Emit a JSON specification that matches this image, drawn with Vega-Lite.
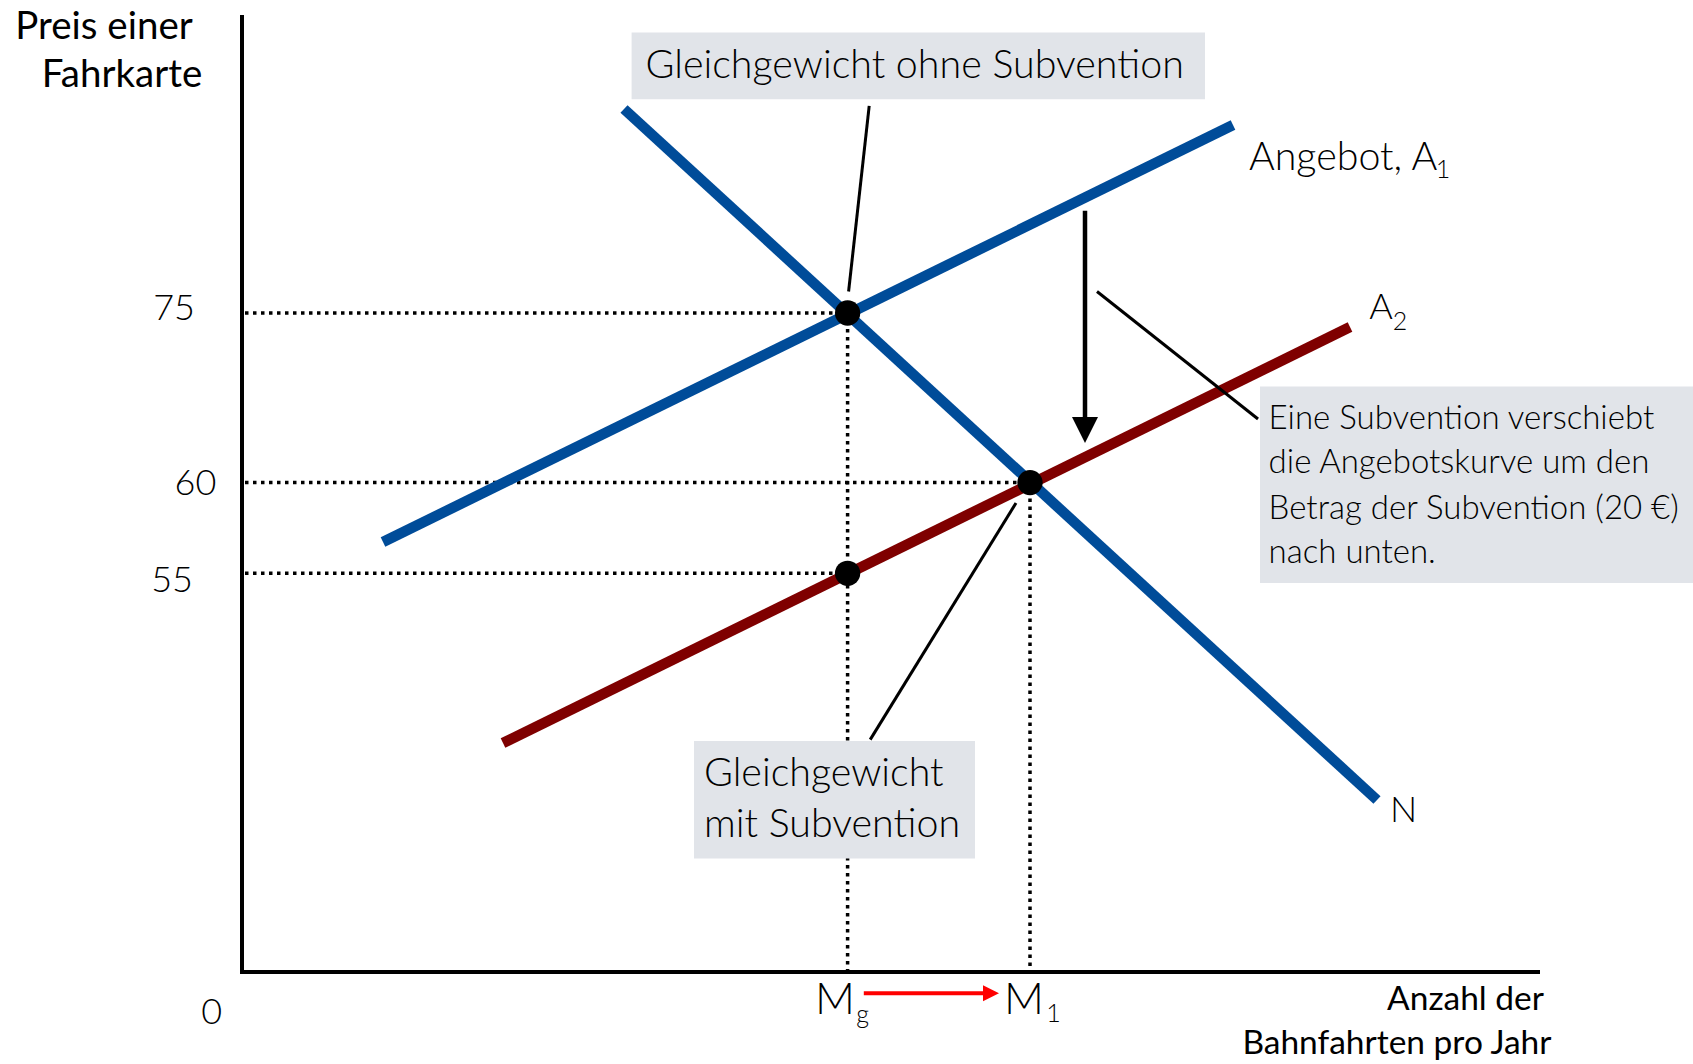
{
  "$schema": "https://vega.github.io/schema/vega-lite/v6.json",
  "width": 1298,
  "height": 957,
  "autosize": {"type": "none"},
  "padding": {"left": 242, "top": 15, "right": 153, "bottom": 92},
  "background": "white",
  "config": {"view": {"stroke": null}},
  "datasets": {
    "boxes": [
      {"name": "ohne", "x": 389.6, "x2": 963, "y": 939.6, "y2": 872.7},
      {"name": "info", "x": 1018, "x2": 1451, "y": 585.5, "y2": 389},
      {"name": "mit", "x": 452, "x2": 733, "y": 231, "y2": 113.6}
    ],
    "segs": [
      {"kind": "axis", "x": 0, "y": 0, "x2": 0, "y2": 957},
      {"kind": "axis", "x": -2, "y": 0, "x2": 1298, "y2": 0},
      {"kind": "dotted", "x": 3, "y": 659, "x2": 605.6, "y2": 659},
      {"kind": "dotted", "x": 3, "y": 489.4, "x2": 788, "y2": 489.4},
      {"kind": "dotted", "x": 3, "y": 398.7, "x2": 605.6, "y2": 398.7},
      {"kind": "dotted", "x": 605.6, "y": 659, "x2": 605.6, "y2": 2},
      {"kind": "dotted", "x": 788, "y": 489.4, "x2": 788, "y2": 2},
      {"kind": "blue", "x": 141, "y": 430, "x2": 991, "y2": 847},
      {"kind": "blue", "x": 382, "y": 863, "x2": 1135, "y2": 172},
      {"kind": "red", "x": 261, "y": 229, "x2": 1108, "y2": 645},
      {"kind": "note", "x": 627.2, "y": 866.2, "x2": 606.6, "y2": 680.5},
      {"kind": "note", "x": 855, "y": 680.5, "x2": 1016, "y2": 553},
      {"kind": "note", "x": 774, "y": 469, "x2": 628.2, "y2": 232.4},
      {"kind": "shift", "x": 843, "y": 761.3, "x2": 843, "y2": 548},
      {"kind": "qty", "x": 621.8, "y": -21.3, "x2": 745, "y2": -21.3}
    ],
    "heads": [
      {"kind": "down", "x": 843, "y": 542},
      {"kind": "right", "x": 749, "y": -21.3}
    ],
    "points": [
      {"name": "ohne Subvention", "x": 605.6, "y": 659},
      {"name": "mit Subvention", "x": 788, "y": 489.4},
      {"name": "Angebotspreis", "x": 605.6, "y": 398.7}
    ],
    "labels": [
      {"role": "big", "text": "Gleichgewicht ohne Subvention", "x": 403.6, "y": 906},
      {"role": "big", "text": "Gleichgewicht", "x": 462, "y": 198},
      {"role": "big", "text": "mit Subvention", "x": 462, "y": 147},
      {"role": "info", "text": "Eine Subvention verschiebt", "x": 1026.6, "y": 553},
      {"role": "info", "text": "die Angebotskurve um den", "x": 1026.6, "y": 509},
      {"role": "info", "text": "Betrag der Subvention (20 €)", "x": 1026.6, "y": 463.5},
      {"role": "info", "text": "nach unten.", "x": 1026.6, "y": 419},
      {"role": "tick", "text": "75", "x": -68, "y": 663},
      {"role": "tick", "text": "60", "x": -46.6, "y": 488},
      {"role": "tick", "text": "55", "x": -70, "y": 391},
      {"role": "tick", "text": "0", "x": -30.4, "y": -41},
      {"role": "tick", "text": "N", "x": 1161.6, "y": 161},
      {"role": "tick", "text": "A", "x": 1139, "y": 664},
      {"role": "m", "text": "M", "x": 593, "y": -29},
      {"role": "m", "text": "M", "x": 782, "y": -29},
      {"role": "sub", "text": "2", "x": 1158, "y": 650},
      {"role": "sub", "text": "g", "x": 620.5, "y": -43},
      {"role": "sub", "text": "1", "x": 811.5, "y": -42},
      {"role": "sub", "text": "1", "x": 1201, "y": 802},
      {"role": "supply", "text": "Angebot, A", "x": 1007, "y": 814},
      {"role": "ytitle", "text": "Preis einer", "x": -138, "y": 945},
      {"role": "ytitle", "text": "Fahrkarte", "x": -120, "y": 897},
      {"role": "xtitle", "text": "Anzahl der", "x": 1302, "y": -28},
      {"role": "xtitle", "text": "Bahnfahrten pro Jahr", "x": 1309.5, "y": -72}
    ]
  },
  "layer": [
    {
      "data": {"name": "segs"},
      "transform": [{"filter": "datum.kind === 'dotted'"}],
      "mark": {"type": "rule", "color": "black", "strokeWidth": 3.5, "strokeDash": [3.5, 4.5], "strokeCap": "butt"},
      "encoding": {
        "x": {"field": "x", "type": "quantitative", "scale": {"domain": [0, 1298], "nice": false, "zero": false}, "axis": null},
        "x2": {"field": "x2"},
        "y": {"field": "y", "type": "quantitative", "scale": {"domain": [0, 957], "nice": false, "zero": false}, "axis": null},
        "y2": {"field": "y2"}
      }
    },
    {
      "data": {"name": "boxes"},
      "mark": {"type": "rect", "fill": "#E1E4E9", "clip": false},
      "encoding": {
        "x": {"field": "x", "type": "quantitative"},
        "x2": {"field": "x2"},
        "y": {"field": "y", "type": "quantitative"},
        "y2": {"field": "y2"}
      }
    },
    {
      "data": {"name": "segs"},
      "transform": [{"filter": "datum.kind === 'axis'"}],
      "mark": {"type": "rule", "color": "black", "strokeWidth": 4, "strokeCap": "butt"},
      "encoding": {
        "x": {"field": "x", "type": "quantitative"},
        "x2": {"field": "x2"},
        "y": {"field": "y", "type": "quantitative"},
        "y2": {"field": "y2"}
      }
    },
    {
      "data": {"name": "segs"},
      "transform": [{"filter": "datum.kind === 'blue'"}],
      "mark": {"type": "rule", "color": "#004C99", "strokeWidth": 10.5, "strokeCap": "butt"},
      "encoding": {
        "x": {"field": "x", "type": "quantitative"},
        "x2": {"field": "x2"},
        "y": {"field": "y", "type": "quantitative"},
        "y2": {"field": "y2"}
      }
    },
    {
      "data": {"name": "segs"},
      "transform": [{"filter": "datum.kind === 'red'"}],
      "mark": {"type": "rule", "color": "#7F0000", "strokeWidth": 10.5, "strokeCap": "butt"},
      "encoding": {
        "x": {"field": "x", "type": "quantitative"},
        "x2": {"field": "x2"},
        "y": {"field": "y", "type": "quantitative"},
        "y2": {"field": "y2"}
      }
    },
    {
      "data": {"name": "segs"},
      "transform": [{"filter": "datum.kind === 'note'"}],
      "mark": {"type": "rule", "color": "black", "strokeWidth": 3, "strokeCap": "butt"},
      "encoding": {
        "x": {"field": "x", "type": "quantitative"},
        "x2": {"field": "x2"},
        "y": {"field": "y", "type": "quantitative"},
        "y2": {"field": "y2"}
      }
    },
    {
      "data": {"name": "segs"},
      "transform": [{"filter": "datum.kind === 'shift'"}],
      "mark": {"type": "rule", "color": "black", "strokeWidth": 4.5, "strokeCap": "butt"},
      "encoding": {
        "x": {"field": "x", "type": "quantitative"},
        "x2": {"field": "x2"},
        "y": {"field": "y", "type": "quantitative"},
        "y2": {"field": "y2"}
      }
    },
    {
      "data": {"name": "segs"},
      "transform": [{"filter": "datum.kind === 'qty'"}],
      "mark": {"type": "rule", "color": "#FF0000", "strokeWidth": 4, "strokeCap": "butt", "clip": false},
      "encoding": {
        "x": {"field": "x", "type": "quantitative"},
        "x2": {"field": "x2"},
        "y": {"field": "y", "type": "quantitative"},
        "y2": {"field": "y2"}
      }
    },
    {
      "data": {"name": "heads"},
      "transform": [{"filter": "datum.kind === 'down'"}],
      "mark": {"type": "point", "shape": "M-1,-1L1,-1L0,1Z", "size": 676, "filled": true, "color": "black", "opacity": 1, "strokeWidth": 0},
      "encoding": {
        "x": {"field": "x", "type": "quantitative"},
        "y": {"field": "y", "type": "quantitative"}
      }
    },
    {
      "data": {"name": "heads"},
      "transform": [{"filter": "datum.kind === 'right'"}],
      "mark": {"type": "point", "shape": "M-1,-1L1,0L-1,1Z", "size": 256, "filled": true, "color": "#FF0000", "opacity": 1, "strokeWidth": 0, "clip": false},
      "encoding": {
        "x": {"field": "x", "type": "quantitative"},
        "y": {"field": "y", "type": "quantitative"}
      }
    },
    {
      "data": {"name": "points"},
      "mark": {"type": "circle", "size": 640, "color": "black", "opacity": 1},
      "encoding": {
        "x": {"field": "x", "type": "quantitative"},
        "y": {"field": "y", "type": "quantitative"}
      }
    },
    {
      "data": {"name": "labels"},
      "transform": [{"filter": "datum.role === 'big'"}],
      "mark": {"type": "text", "font": "Lato", "fontWeight": 300, "fontSize": 39.4, "align": "left", "baseline": "middle", "color": "black"},
      "encoding": {
        "x": {"field": "x", "type": "quantitative"},
        "y": {"field": "y", "type": "quantitative"},
        "text": {"field": "text"}
      }
    },
    {
      "data": {"name": "labels"},
      "transform": [{"filter": "datum.role === 'info'"}],
      "mark": {"type": "text", "font": "Lato", "fontWeight": 300, "fontSize": 33, "align": "left", "baseline": "middle", "color": "black"},
      "encoding": {
        "x": {"field": "x", "type": "quantitative"},
        "y": {"field": "y", "type": "quantitative"},
        "text": {"field": "text"}
      }
    },
    {
      "data": {"name": "labels"},
      "transform": [{"filter": "datum.role === 'tick'"}],
      "mark": {"type": "text", "font": "Lato", "fontWeight": 300, "fontSize": 36, "align": "center", "baseline": "middle", "color": "black", "clip": false},
      "encoding": {
        "x": {"field": "x", "type": "quantitative"},
        "y": {"field": "y", "type": "quantitative"},
        "text": {"field": "text"}
      }
    },
    {
      "data": {"name": "labels"},
      "transform": [{"filter": "datum.role === 'm'"}],
      "mark": {"type": "text", "font": "Lato", "fontWeight": 300, "fontSize": 44, "align": "center", "baseline": "middle", "color": "black"},
      "encoding": {
        "x": {"field": "x", "type": "quantitative"},
        "y": {"field": "y", "type": "quantitative"},
        "text": {"field": "text"}
      }
    },
    {
      "data": {"name": "labels"},
      "transform": [{"filter": "datum.role === 'sub'"}],
      "mark": {"type": "text", "font": "Lato", "fontWeight": 300, "fontSize": 25, "align": "center", "baseline": "middle", "color": "black"},
      "encoding": {
        "x": {"field": "x", "type": "quantitative"},
        "y": {"field": "y", "type": "quantitative"},
        "text": {"field": "text"}
      }
    },
    {
      "data": {"name": "labels"},
      "transform": [{"filter": "datum.role === 'supply'"}],
      "mark": {"type": "text", "font": "Lato", "fontWeight": 300, "fontSize": 39.4, "align": "left", "baseline": "middle", "color": "black"},
      "encoding": {
        "x": {"field": "x", "type": "quantitative"},
        "y": {"field": "y", "type": "quantitative"},
        "text": {"field": "text"}
      }
    },
    {
      "data": {"name": "labels"},
      "transform": [{"filter": "datum.role === 'ytitle'"}],
      "mark": {"type": "text", "font": "Lato", "fontWeight": 400, "fontSize": 38.5, "align": "center", "baseline": "middle", "color": "black"},
      "encoding": {
        "x": {"field": "x", "type": "quantitative"},
        "y": {"field": "y", "type": "quantitative"},
        "text": {"field": "text"}
      }
    },
    {
      "data": {"name": "labels"},
      "transform": [{"filter": "datum.role === 'xtitle'"}],
      "mark": {"type": "text", "font": "Lato", "fontWeight": 400, "fontSize": 33.5, "align": "right", "baseline": "middle", "color": "black"},
      "encoding": {
        "x": {"field": "x", "type": "quantitative"},
        "y": {"field": "y", "type": "quantitative"},
        "text": {"field": "text"}
      }
    }
  ]
}
